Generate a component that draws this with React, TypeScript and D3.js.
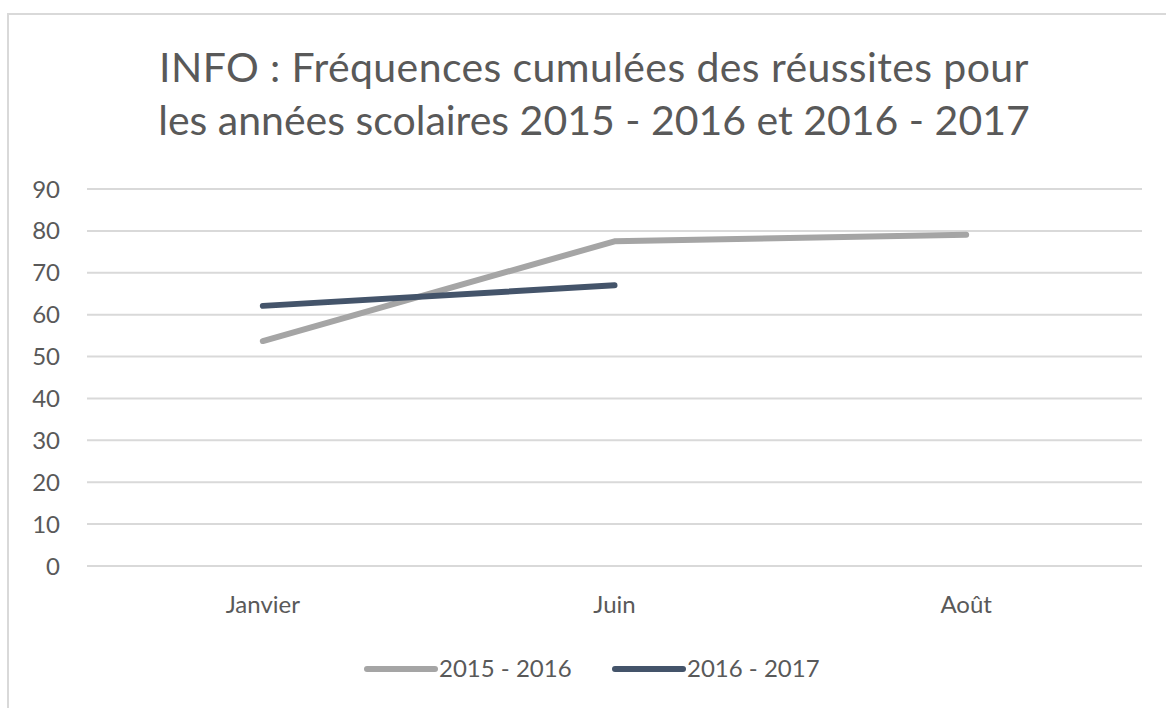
import React, { useEffect, useRef } from "react";
import * as d3 from "d3";

const months = ["Janvier", "Juin", "Août"];
const serie1516 = [53.7, 77.5, 79.1];
const serie1617 = [62.1, 67.0];
const seriesNames = ["2015 - 2016", "2016 - 2017"];
const seriesColors = ["#a5a5a5", "#44546a"];
const yTicks = [0, 10, 20, 30, 40, 50, 60, 70, 80, 90];
const titleLines = [
  "INFO : Fréquences cumulées des réussites pour",
  "les années scolaires 2015 - 2016 et 2016 - 2017",
];

const W = 1166;
const H = 708;
const FONT = "Lato, 'Open Sans', sans-serif";

export default function App() {
  const ref = useRef<SVGSVGElement>(null);

  useEffect(() => {
    const svg = d3.select(ref.current);
    svg.selectAll("*").remove();

    // frame of the chart area
    svg.append("rect")
      .attr("x", 8)
      .attr("y", 14)
      .attr("width", 1200)
      .attr("height", 800)
      .attr("fill", "white")
      .attr("stroke", "#d9d9d9")
      .attr("stroke-width", 2);

    const left = 87, right = 1142, top = 189, bottom = 566;

    const x = d3.scaleBand().domain(months).range([left, right]);
    const y = d3.scaleLinear().domain([0, 90]).range([bottom, top]);

    // title
    svg.append("text")
      .attr("font-family", FONT)
      .attr("font-size", 41)
      .attr("fill", "#595959")
      .attr("text-anchor", "middle")
      .selectAll("tspan")
      .data(titleLines)
      .enter()
      .append("tspan")
      .attr("x", 594)
      .attr("y", (d, i) => 82 + i * 53)
      .attr("letter-spacing", (d, i) => (i === 0 ? 0.4 : 0))
      .text(d => d);

    // gridlines
    svg.append("g")
      .selectAll("line")
      .data(yTicks)
      .enter()
      .append("line")
      .attr("x1", left)
      .attr("x2", right)
      .attr("y1", d => y(d))
      .attr("y2", d => y(d))
      .attr("stroke", "#d9d9d9")
      .attr("stroke-width", 2);

    svg.append("g")
      .selectAll("text")
      .data(yTicks)
      .enter()
      .append("text")
      .attr("x", 60)
      .attr("y", d => y(d) + 8.5)
      .attr("text-anchor", "end")
      .attr("font-family", FONT)
      .attr("font-size", 24)
      .attr("fill", "#595959")
      .text(d => d);

    svg.append("g")
      .selectAll("text")
      .data(months)
      .enter()
      .append("text")
      .attr("x", d => (x(d) || 0) + x.bandwidth() / 2)
      .attr("y", 613)
      .attr("text-anchor", "middle")
      .attr("font-family", FONT)
      .attr("font-size", 24)
      .attr("fill", "#595959")
      .text(d => d);

    const line = d3.line<number>()
      .x((d, i) => (x(months[i]) || 0) + x.bandwidth() / 2)
      .y(d => y(d));

    [serie1516, serie1617].forEach((s, k) => {
      svg.append("path")
        .datum(s)
        .attr("d", line)
        .attr("fill", "none")
        .attr("stroke", seriesColors[k])
        .attr("stroke-width", 6)
        .attr("stroke-linecap", "round")
        .attr("stroke-linejoin", "round");
    });

    // legend
    const legendX = [367, 615];
    const lg = svg.append("g")
      .selectAll("g")
      .data(seriesNames)
      .enter()
      .append("g");
    lg.append("line")
      .attr("x1", (d, i) => legendX[i])
      .attr("x2", (d, i) => legendX[i] + 68)
      .attr("y1", 669)
      .attr("y2", 669)
      .attr("stroke", (d, i) => seriesColors[i])
      .attr("stroke-width", 6)
      .attr("stroke-linecap", "round");
    lg.append("text")
      .attr("x", (d, i) => legendX[i] + 72)
      .attr("y", 677)
      .attr("font-family", FONT)
      .attr("font-size", 24)
      .attr("fill", "#595959")
      .text(d => d);
  }, []);

  return (
    <svg
      ref={ref}
      width={W}
      height={H}
      style={{ position: "fixed", left: 0, top: 0, display: "block", background: "white" }}
    />
  );
}
